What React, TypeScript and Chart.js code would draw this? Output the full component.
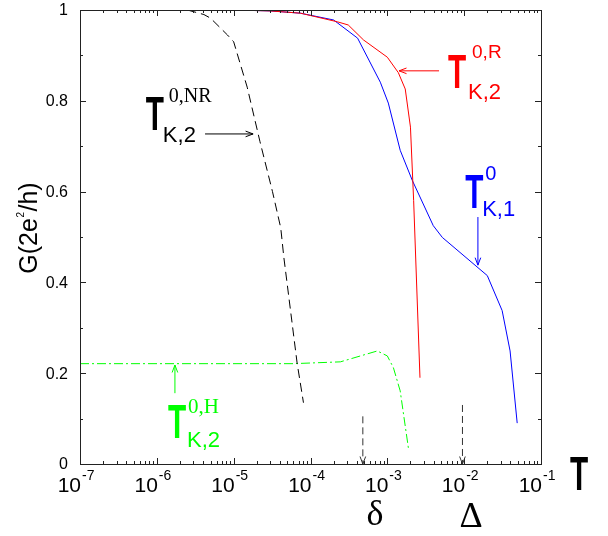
import { useEffect, useRef } from "react";
import { Chart, registerables } from "chart.js";

Chart.register(...registerables);

// ---- data (T, G in units of 2e^2/h) ----
const tK2R = [1e-5, 3e-5, 7.4e-5, 2.24e-4, 3.1e-4, 4.9e-4, 1.0e-3, 1.39e-3, 1.71e-3, 2.0e-3, 2.2e-3, 2.66e-3];
const gK2R = [1.0, 0.998, 0.993, 0.974, 0.967, 0.934, 0.896, 0.862, 0.826, 0.742, 0.58, 0.19];

const tK1 = [1e-5, 3e-5, 7.4e-5, 2.0e-4, 4.1e-4, 8.1e-4, 1.03e-3, 1.47e-3, 2.11e-3, 3.96e-3, 5.2e-3, 2.0e-2, 3.12e-2, 3.96e-2, 4.9e-2];
const gK1 = [1.0, 0.998, 0.993, 0.978, 0.938, 0.841, 0.795, 0.691, 0.625, 0.525, 0.499, 0.415, 0.338, 0.249, 0.09];

const tK2NR = [2.5e-6, 4.1e-6, 5e-6, 8.3e-6, 1e-5, 1.5e-5, 2.2e-5, 3.2e-5, 4.1e-5, 4.5e-5, 6.7e-5, 8.1e-5];
const gK2NR = [1.0, 0.99, 0.982, 0.945, 0.93, 0.83, 0.71, 0.6, 0.52, 0.455, 0.222, 0.135];

const tK2H = [1e-7, 6e-5, 2.45e-4, 7.4e-4, 1.0e-3, 1.2e-3, 1.47e-3, 1.88e-3];
const gK2H = [0.221, 0.221, 0.225, 0.249, 0.238, 0.212, 0.161, 0.035];

// energy scales delta and Delta (vertical dashed arrows)
const deltaT = [4.8e-4, 4.8e-4];
const deltaG = [0.105, 0];
const bigDeltaT = [9.5e-3, 9.5e-3];
const bigDeltaG = [0.13, 0];

// ticks
const xTickExponents = [-7, -6, -5, -4, -3, -2, -1];
const xTickBase = "10";
const yTickValues = [0, 0.2, 0.4, 0.6, 0.8, 1];
const yTickLabels = ["0", "0.2", "0.4", "0.6", "0.8", "1"];
const yMinorValues = [0.1, 0.3, 0.5, 0.7, 0.9];

const toPts = (xs: number[], ys: number[]) => xs.map((x, i) => ({ x, y: ys[i] }));

const SANS = '"Liberation Sans", Arial, Helvetica, sans-serif';
const SERIF = '"Liberation Serif", "Times New Roman", serif';
const GREEN = "#00ff00";

function drawArrow(ctx: CanvasRenderingContext2D, x1: number, y1: number, x2: number, y2: number, color: string, shaft = true) {
  ctx.save();
  ctx.strokeStyle = color;
  ctx.lineWidth = 1;
  ctx.setLineDash([]);
  if (shaft) {
    ctx.beginPath();
    ctx.moveTo(x1, y1);
    ctx.lineTo(x2, y2);
    ctx.stroke();
  }
  const ang = Math.atan2(y2 - y1, x2 - x1);
  const L = 8, W = 0.36;
  ctx.beginPath();
  ctx.moveTo(x2 - L * Math.cos(ang - W), y2 - L * Math.sin(ang - W));
  ctx.lineTo(x2, y2);
  ctx.lineTo(x2 - L * Math.cos(ang + W), y2 - L * Math.sin(ang + W));
  ctx.stroke();
  ctx.restore();
}

function drawBigT(ctx: CanvasRenderingContext2D, x: number, baseline: number, color: string) {
  ctx.save();
  ctx.translate(x, baseline);
  ctx.scale(0.62, 1);
  ctx.font = `bold 48px ${SANS}`;
  ctx.fillStyle = color;
  ctx.textAlign = "left";
  ctx.textBaseline = "alphabetic";
  ctx.fillText("T", 0, 0);
  ctx.restore();
}

type Label = {
  x: number; y: number; color: string;
  sup: string; supFont: string; supDx: number; supDy: number;
  sub: string; subDx: number; subDy: number;
  arrow: [number, number, number, number];
};

const labels: Label[] = [
  { x: 7.2e-7, y: 0.736, color: "#000000", sup: "0,NR", supFont: `20px ${SERIF}`, supDx: 23, supDy: -28, sub: "K,2", subDx: 17, subDy: 12, arrow: [4.24e-6, 0.727, 1.79e-5, 0.727] },
  { x: 6.17e-3, y: 0.828, color: "#ff0000", sup: "0,R", supFont: `19px ${SANS}`, supDx: 24, supDy: -30, sub: "K,2", subDx: 20, subDy: 11, arrow: [4.71e-3, 0.866, 1.42e-3, 0.866] },
  { x: 1.03e-2, y: 0.564, color: "#0000ff", sup: "0", supFont: `20px ${SANS}`, supDx: 20, supDy: -28, sub: "K,1", subDx: 17, subDy: 8, arrow: [1.51e-2, 0.544, 1.51e-2, 0.438] },
  { x: 1.4e-6, y: 0.057, color: GREEN, sup: "0,H", supFont: `21px ${SERIF}`, supDx: 20, supDy: -25, sub: "K,2", subDx: 19, subDy: 9, arrow: [1.72e-6, 0.156, 1.72e-6, 0.218] },
];

const decorations = {
  id: "decorations",
  afterDatasetsDraw(chart: any) {
    const { ctx, chartArea: a, scales } = chart;
    const X = (v: number) => scales.x.getPixelForValue(v);
    const Y = (v: number) => scales.y.getPixelForValue(v);
    ctx.save();
    ctx.setLineDash([]);
    // frame
    ctx.strokeStyle = "#222";
    ctx.lineWidth = 1;
    ctx.strokeRect(a.left + 0.5, a.top + 0.5, a.right - a.left, a.bottom - a.top);

    // x ticks (bottom & top, inside)
    ctx.beginPath();
    xTickExponents.forEach((e, i) => {
      const px = Math.round(X(Math.pow(10, e))) + 0.5;
      ctx.moveTo(px, a.bottom); ctx.lineTo(px, a.bottom - 6);
      ctx.moveTo(px, a.top); ctx.lineTo(px, a.top + 6);
      if (i < xTickExponents.length - 1) {
        for (let m = 2; m <= 9; m++) {
          const qx = Math.round(X(m * Math.pow(10, e))) + 0.5;
          ctx.moveTo(qx, a.bottom); ctx.lineTo(qx, a.bottom - 3);
          ctx.moveTo(qx, a.top); ctx.lineTo(qx, a.top + 3);
        }
      }
    });
    // y ticks (left & right, inside)
    yTickValues.forEach((v) => {
      const py = Math.round(Y(v)) + 0.5;
      ctx.moveTo(a.left, py); ctx.lineTo(a.left + 6, py);
      ctx.moveTo(a.right, py); ctx.lineTo(a.right - 6, py);
    });
    yMinorValues.forEach((v) => {
      const py = Math.round(Y(v)) + 0.5;
      ctx.moveTo(a.left, py); ctx.lineTo(a.left + 3, py);
      ctx.moveTo(a.right, py); ctx.lineTo(a.right - 3, py);
    });
    ctx.stroke();

    // tick labels
    ctx.fillStyle = "#000";
    ctx.textBaseline = "middle";
    ctx.textAlign = "right";
    ctx.font = `16px ${SANS}`;
    yTickValues.forEach((v, i) => ctx.fillText(yTickLabels[i], a.left - 12, Y(v) + 1));

    ctx.textBaseline = "alphabetic";
    xTickExponents.forEach((e) => {
      const px = X(Math.pow(10, e));
      ctx.font = `21px ${SANS}`;
      ctx.textAlign = "right";
      ctx.fillText(xTickBase, px + 1, a.bottom + 28);
      ctx.font = `14px ${SANS}`;
      ctx.textAlign = "left";
      ctx.fillText("-" + Math.abs(e), px + 2, a.bottom + 16);
    });

    // axis title T
    drawBigT(ctx, a.right + 29, a.bottom + 26, "#000");

    // y title G(2e^2/h)
    ctx.save();
    ctx.translate(37, (a.top + a.bottom) / 2 - 9);
    ctx.rotate(-Math.PI / 2);
    ctx.textAlign = "left";
    ctx.textBaseline = "alphabetic";
    const p1 = "G(2e", p2 = "/h)";
    ctx.font = `25px ${SANS}`;
    const w1 = ctx.measureText(p1).width;
    const w3 = ctx.measureText(p2).width;
    ctx.font = `10px ${SANS}`;
    const w2 = ctx.measureText("2").width + 1;
    const start = -(w1 + w2 + w3) / 2;
    ctx.font = `25px ${SANS}`;
    ctx.fillText(p1, start, 0);
    ctx.fillText(p2, start + w1 + w2, 0);
    ctx.font = `10px ${SANS}`;
    ctx.fillText("2", start + w1 + 0.5, -13);
    ctx.restore();

    // delta / Delta labels
    ctx.font = `36px ${SERIF}`;
    ctx.textAlign = "center";
    ctx.fillText("δ", X(6.9e-4), a.bottom + 61);
    ctx.fillText("Δ", X(1.23e-2), a.bottom + 63);

    // arrowheads of energy-scale markers
    drawArrow(ctx, X(deltaT[0]), Y(deltaG[0]), X(deltaT[1]), Y(deltaG[1]), "#333", false);
    drawArrow(ctx, X(bigDeltaT[0]), Y(bigDeltaG[0]), X(bigDeltaT[1]), Y(bigDeltaG[1]), "#333", false);

    // curve labels
    labels.forEach((l) => {
      const lx = X(l.x), ly = Y(l.y);
      drawBigT(ctx, lx, ly, l.color);
      ctx.fillStyle = l.color;
      ctx.textAlign = "left";
      ctx.textBaseline = "alphabetic";
      ctx.font = l.supFont;
      ctx.fillText(l.sup, lx + l.supDx, ly + l.supDy);
      ctx.font = `22px ${SANS}`;
      ctx.fillText(l.sub, lx + l.subDx, ly + l.subDy);
      const [ax1, ay1, ax2, ay2] = l.arrow;
      drawArrow(ctx, X(ax1), Y(ay1), X(ax2), Y(ay2), l.color);
    });

    ctx.restore();
  },
};

export default function App() {
  const ref = useRef<HTMLCanvasElement | null>(null);
  useEffect(() => {
    if (!ref.current) return;
    const common = { pointRadius: 0, tension: 0, fill: false, borderWidth: 1 };
    const chart = new Chart(ref.current, {
      type: "line",
      data: {
        datasets: [
          { ...common, label: "T0R K,2", data: toPts(tK2R, gK2R), borderColor: "#ff0000" },
          { ...common, label: "T0 K,1", data: toPts(tK1, gK1), borderColor: "#0000ff" },
          { ...common, label: "T0NR K,2", data: toPts(tK2NR, gK2NR), borderColor: "#000000", borderDash: [9, 5] },
          { ...common, label: "T0H K,2", data: toPts(tK2H, gK2H), borderColor: GREEN, borderDash: [9, 3, 2, 3] },
          { ...common, label: "delta", data: toPts(deltaT, deltaG), borderColor: "#333", borderDash: [7, 4] },
          { ...common, label: "Delta", data: toPts(bigDeltaT, bigDeltaG), borderColor: "#333", borderDash: [7, 4] },
        ],
      },
      options: {
        animation: false,
        responsive: false,
        events: [],
        layout: { padding: { left: 80, top: 10, right: 67, bottom: 72 } },
        plugins: { legend: { display: false }, tooltip: { enabled: false } },
        scales: {
          x: { type: "logarithmic", min: 1e-7, max: 1e-1, display: false },
          y: { type: "linear", min: 0, max: 1, display: false },
        },
      },
      plugins: [decorations],
    } as any);
    return () => chart.destroy();
  }, []);
  return (
    <div style={{ position: "fixed", left: 0, top: 0, width: 608, height: 536, background: "#fff" }}>
      <canvas ref={ref} width={608} height={536} style={{ display: "block", width: 608, height: 536 }} />
    </div>
  );
}
